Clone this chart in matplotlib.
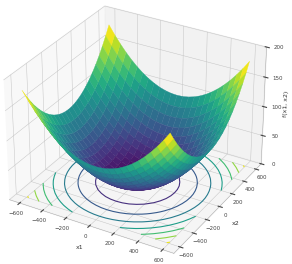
import numpy as np
import matplotlib
matplotlib.use("Agg")
import matplotlib.pyplot as plt

x_values = [-600, -550, -500, -450, -400, -350, -300, -250, -200, -150, -100, -50, 0,
            50, 100, 150, 200, 250, 300, 350, 400, 450, 500, 550, 600]
# Surface height read for one quadrant (|x1| across, |x2| down, steps of 50); the bowl is symmetric
height_quadrant = [
    [0, 0.6, 2.5, 5.6, 10, 15.6, 22.5, 30.6, 40, 50.6, 62.5, 75.6, 90],
    [0.6, 1.2, 3.1, 6.2, 10.6, 16.2, 23.1, 31.2, 40.6, 51.2, 63.1, 76.2, 90.6],
    [2.5, 3.1, 5, 8.1, 12.5, 18.1, 25, 33.1, 42.5, 53.1, 65, 78.1, 92.5],
    [5.6, 6.2, 8.1, 11.2, 15.6, 21.2, 28.1, 36.2, 45.6, 56.2, 68.1, 81.2, 95.6],
    [10, 10.6, 12.5, 15.6, 20, 25.6, 32.5, 40.6, 50, 60.6, 72.5, 85.6, 100],
    [15.6, 16.2, 18.1, 21.2, 25.6, 31.2, 38.1, 46.2, 55.6, 66.2, 78.1, 91.2, 105.6],
    [22.5, 23.1, 25, 28.1, 32.5, 38.1, 45, 53.1, 62.5, 73.1, 85, 98.1, 112.5],
    [30.6, 31.2, 33.1, 36.2, 40.6, 46.2, 53.1, 61.2, 70.6, 81.2, 93.1, 106.2, 120.6],
    [40, 40.6, 42.5, 45.6, 50, 55.6, 62.5, 70.6, 80, 90.6, 102.5, 115.6, 130],
    [50.6, 51.2, 53.1, 56.2, 60.6, 66.2, 73.1, 81.2, 90.6, 101.2, 113.1, 126.2, 140.6],
    [62.5, 63.1, 65, 68.1, 72.5, 78.1, 85, 93.1, 102.5, 113.1, 125, 138.1, 152.5],
    [75.6, 76.2, 78.1, 81.2, 85.6, 91.2, 98.1, 106.2, 115.6, 126.2, 138.1, 151.2, 165.6],
    [90, 90.6, 92.5, 95.6, 100, 105.6, 112.5, 120.6, 130, 140.6, 152.5, 165.6, 180],
]
contour_levels = [25, 50, 75, 100, 125, 150, 175]
xy_ticks = [-600, -400, -200, 0, 200, 400, 600]
z_ticks = [0, 50, 100, 150, 200]

x = np.array(x_values, dtype=float)
X, Y = np.meshgrid(x, x)
idx = (np.abs(x) / 50).astype(int)
Z = np.array(height_quadrant)[np.ix_(idx, idx)]

fig = plt.figure(figsize=(2.92, 2.64), dpi=100)
ax = fig.add_axes([-0.072, -0.033, 1.06, 1.10], projection="3d", computed_zorder=False)

ax.contour(X, Y, Z, levels=contour_levels, zdir="z", offset=0, cmap="viridis",
           vmin=0, vmax=180, linewidths=0.8, zorder=1)
surface = ax.plot_surface(X, Y, Z, cmap="viridis", vmin=0, vmax=170, rcount=25, ccount=25,
                          linewidth=0.25, antialiased=True, shade=False, zorder=2)
surface.set_edgecolor("face")

ax.set_xlim(-690, 690)
ax.set_ylim(-690, 690)
ax.set_zlim(0, 200)
ax.set_box_aspect((4, 4, 2.9), zoom=1.0)
ax.set_xticks(xy_ticks)
ax.set_yticks(xy_ticks)
ax.set_zticks(z_ticks)
ax.view_init(elev=30, azim=-60)
ax.tick_params(labelsize=4, pad=-4, length=2, width=0.3, colors="#444444")
ax.tick_params(axis="z", pad=-2.5)
ax.set_xlabel("x1", fontsize=4.5, labelpad=-10, color="#333333")
ax.set_ylabel("x2", fontsize=4.5, labelpad=-10, color="#333333")
ax.set_zlabel("f(x1, x2)", fontsize=4.5, labelpad=-11, color="#333333")
for a in (ax.xaxis, ax.yaxis, ax.zaxis):
    a._axinfo["grid"]["linewidth"] = 0.35
    a._axinfo["grid"]["color"] = "#c4c4c4"
    a.line.set_linewidth(0.3)
    a.line.set_color("#999999")

fig.savefig("out.png", dpi=100)
